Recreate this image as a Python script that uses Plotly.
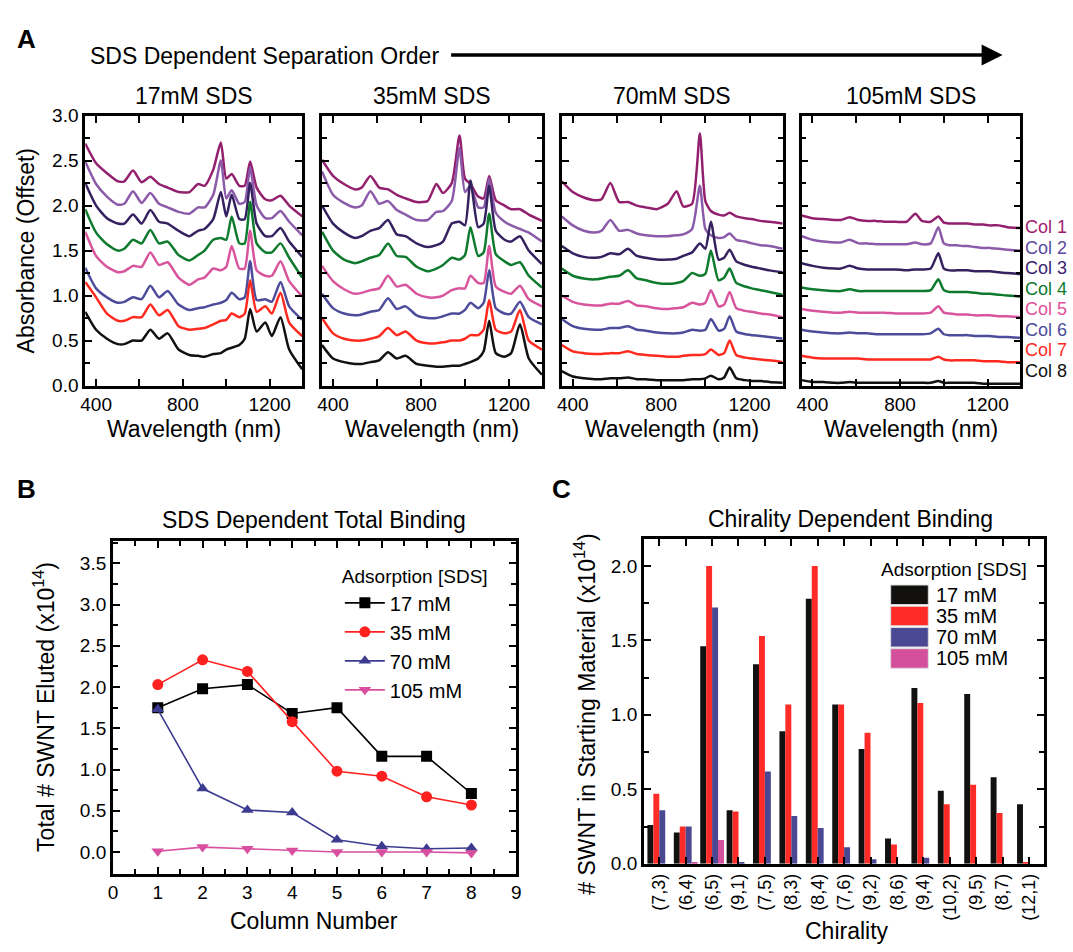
import plotly.graph_objects as go

W, H = 1073, 952
def fx(px): return px / W
def fy(py): return 1 - py / H

FONT = "Liberation Sans, Arial, sans-serif"

# ---------------- Panel A data (absorbance, offset) ----------------
wavelength_nm = [350, 400, 450, 500, 530, 570, 610, 650, 690, 730, 780, 830, 870, 900,
                 940, 975, 1000, 1025, 1060, 1085, 1110, 1140, 1180, 1210, 1250, 1290, 1350]

column_names = ["Col 1", "Col 2", "Col 3", "Col 4", "Col 5", "Col 6", "Col 7", "Col 8"]
panel_titles = ["17mM SDS", "35mM SDS", "70mM SDS", "105mM SDS"]

abs_17mM = [
    [2.69, 2.47, 2.36, 2.27, 2.27, 2.39, 2.26, 2.32, 2.24, 2.20, 2.15, 2.15, 2.24, 2.22, 2.40, 2.70, 2.30, 2.35, 2.22, 2.22, 2.49, 2.20, 2.07, 2.06, 2.11, 2.00, 1.88],
    [2.49, 2.24, 2.10, 2.01, 2.02, 2.16, 2.03, 2.14, 2.02, 1.98, 1.93, 1.91, 1.98, 1.98, 2.12, 2.50, 2.08, 2.17, 2.02, 2.04, 2.42, 2.00, 1.86, 1.86, 1.94, 1.82, 1.67],
    [2.25, 2.00, 1.86, 1.80, 1.80, 1.90, 1.80, 1.95, 1.82, 1.80, 1.72, 1.66, 1.72, 1.74, 1.85, 2.15, 1.88, 2.12, 1.85, 1.85, 2.25, 1.80, 1.66, 1.66, 1.75, 1.60, 1.43],
    [1.96, 1.70, 1.57, 1.50, 1.52, 1.62, 1.58, 1.73, 1.58, 1.60, 1.45, 1.39, 1.45, 1.50, 1.62, 1.64, 1.62, 1.88, 1.58, 1.58, 2.04, 1.58, 1.48, 1.48, 1.58, 1.42, 1.20],
    [1.71, 1.44, 1.32, 1.26, 1.27, 1.33, 1.32, 1.48, 1.34, 1.37, 1.20, 1.12, 1.18, 1.20, 1.30, 1.28, 1.32, 1.55, 1.30, 1.30, 1.72, 1.28, 1.22, 1.22, 1.38, 1.16, 0.99],
    [1.31, 1.08, 0.98, 0.92, 0.93, 0.98, 0.96, 1.11, 0.98, 1.05, 0.90, 0.84, 0.86, 0.87, 0.90, 0.92, 0.95, 1.03, 0.96, 0.98, 1.38, 0.95, 0.96, 0.93, 1.15, 0.88, 0.73],
    [1.15, 0.98, 0.80, 0.72, 0.72, 0.76, 0.76, 0.90, 0.78, 0.84, 0.66, 0.62, 0.63, 0.64, 0.68, 0.72, 0.73, 0.80, 0.76, 0.80, 1.17, 0.82, 0.88, 0.80, 1.03, 0.70, 0.55],
    [0.82, 0.62, 0.52, 0.46, 0.46, 0.50, 0.50, 0.62, 0.52, 0.58, 0.40, 0.34, 0.33, 0.32, 0.35, 0.36, 0.40, 0.42, 0.45, 0.52, 0.85, 0.60, 0.70, 0.55, 0.76, 0.40, 0.18],
]

abs_35mM = [
    [2.51, 2.33, 2.24, 2.18, 2.20, 2.33, 2.20, 2.18, 2.12, 2.08, 2.04, 2.05, 2.24, 2.14, 2.25, 2.78, 2.30, 2.24, 2.10, 2.08, 2.33, 2.06, 2.00, 1.96, 1.96, 1.90, 1.83],
    [2.38, 2.12, 2.03, 1.98, 2.00, 2.16, 2.02, 2.05, 1.95, 1.90, 1.84, 1.84, 1.93, 1.94, 2.05, 2.64, 2.15, 2.22, 1.98, 1.98, 2.30, 1.92, 1.82, 1.78, 1.74, 1.70, 1.60],
    [2.00, 1.80, 1.70, 1.64, 1.66, 1.72, 1.75, 1.84, 1.68, 1.66, 1.58, 1.54, 1.56, 1.60, 1.80, 1.82, 1.78, 2.28, 1.76, 1.80, 2.22, 1.72, 1.62, 1.60, 1.66, 1.50, 1.35],
    [1.71, 1.50, 1.40, 1.36, 1.38, 1.42, 1.45, 1.58, 1.44, 1.43, 1.32, 1.27, 1.30, 1.34, 1.42, 1.40, 1.45, 1.76, 1.44, 1.48, 1.91, 1.46, 1.38, 1.34, 1.37, 1.22, 1.09],
    [1.33, 1.16, 1.07, 1.02, 1.03, 1.06, 1.08, 1.22, 1.10, 1.12, 1.02, 0.98, 0.98, 1.00, 1.06, 1.08, 1.08, 1.22, 1.14, 1.14, 1.55, 1.10, 1.04, 1.02, 1.11, 0.96, 0.88],
    [1.02, 0.86, 0.80, 0.78, 0.79, 0.82, 0.84, 0.97, 0.85, 0.88, 0.78, 0.75, 0.75, 0.77, 0.80, 0.80, 0.84, 0.92, 0.86, 0.92, 1.28, 0.86, 0.80, 0.80, 0.93, 0.76, 0.68],
    [0.75, 0.58, 0.52, 0.50, 0.50, 0.52, 0.55, 0.64, 0.56, 0.60, 0.50, 0.47, 0.47, 0.48, 0.50, 0.50, 0.52, 0.56, 0.56, 0.62, 0.95, 0.62, 0.58, 0.60, 0.84, 0.50, 0.40],
    [0.45, 0.30, 0.26, 0.24, 0.24, 0.26, 0.28, 0.37, 0.30, 0.33, 0.24, 0.22, 0.21, 0.21, 0.22, 0.22, 0.24, 0.26, 0.30, 0.38, 0.72, 0.36, 0.32, 0.36, 0.68, 0.30, 0.12],
]

abs_70mM = [
    [2.27, 2.15, 2.09, 2.06, 2.07, 2.25, 2.04, 2.04, 2.00, 1.98, 1.96, 2.02, 2.16, 1.99, 2.02, 2.80, 2.05, 1.94, 1.90, 1.89, 1.92, 1.88, 1.86, 1.85, 1.83, 1.82, 1.80],
    [1.88, 1.78, 1.72, 1.70, 1.72, 1.84, 1.72, 1.73, 1.69, 1.67, 1.66, 1.66, 1.67, 1.68, 1.74, 2.22, 1.74, 1.67, 1.64, 1.65, 1.69, 1.62, 1.60, 1.58, 1.56, 1.55, 1.52],
    [1.55, 1.47, 1.43, 1.42, 1.43, 1.47, 1.46, 1.52, 1.44, 1.42, 1.40, 1.40, 1.41, 1.44, 1.48, 1.58, 1.52, 1.82, 1.40, 1.42, 1.51, 1.38, 1.34, 1.32, 1.30, 1.28, 1.26],
    [1.30, 1.22, 1.19, 1.18, 1.19, 1.21, 1.22, 1.28, 1.19, 1.17, 1.14, 1.13, 1.14, 1.16, 1.25, 1.22, 1.24, 1.50, 1.17, 1.20, 1.30, 1.14, 1.10, 1.08, 1.06, 1.04, 1.01],
    [1.00, 0.93, 0.90, 0.89, 0.89, 0.91, 0.91, 0.94, 0.89, 0.88, 0.86, 0.85, 0.86, 0.87, 0.92, 0.90, 0.92, 1.06, 0.88, 0.90, 1.04, 0.86, 0.83, 0.82, 0.80, 0.79, 0.76],
    [0.74, 0.66, 0.63, 0.62, 0.62, 0.64, 0.64, 0.66, 0.62, 0.61, 0.59, 0.58, 0.58, 0.59, 0.62, 0.61, 0.62, 0.74, 0.61, 0.63, 0.77, 0.60, 0.57, 0.56, 0.55, 0.54, 0.52],
    [0.45, 0.38, 0.36, 0.35, 0.35, 0.36, 0.36, 0.38, 0.35, 0.34, 0.33, 0.32, 0.32, 0.33, 0.34, 0.34, 0.35, 0.40, 0.34, 0.36, 0.50, 0.34, 0.31, 0.30, 0.29, 0.28, 0.26],
    [0.16, 0.10, 0.08, 0.07, 0.07, 0.08, 0.08, 0.09, 0.07, 0.07, 0.06, 0.06, 0.06, 0.06, 0.07, 0.07, 0.08, 0.11, 0.07, 0.09, 0.20, 0.08, 0.06, 0.05, 0.05, 0.04, 0.03],
]

abs_105mM = [
    [1.89, 1.86, 1.85, 1.84, 1.84, 1.87, 1.84, 1.83, 1.83, 1.82, 1.82, 1.82, 1.91, 1.83, 1.82, 1.88, 1.81, 1.80, 1.80, 1.80, 1.80, 1.79, 1.79, 1.78, 1.78, 1.76, 1.75],
    [1.66, 1.62, 1.60, 1.59, 1.59, 1.62, 1.58, 1.58, 1.57, 1.57, 1.57, 1.57, 1.59, 1.57, 1.58, 1.76, 1.58, 1.56, 1.56, 1.55, 1.55, 1.54, 1.53, 1.53, 1.52, 1.51, 1.50],
    [1.36, 1.33, 1.31, 1.30, 1.30, 1.33, 1.30, 1.29, 1.29, 1.29, 1.29, 1.28, 1.29, 1.29, 1.30, 1.47, 1.30, 1.28, 1.28, 1.28, 1.28, 1.27, 1.27, 1.27, 1.26, 1.25, 1.24],
    [1.09, 1.07, 1.06, 1.05, 1.05, 1.07, 1.05, 1.05, 1.05, 1.05, 1.05, 1.05, 1.05, 1.05, 1.06, 1.18, 1.06, 1.04, 1.04, 1.04, 1.04, 1.03, 1.02, 1.02, 1.01, 1.00, 0.99],
    [0.85, 0.83, 0.82, 0.81, 0.81, 0.82, 0.81, 0.81, 0.81, 0.81, 0.80, 0.80, 0.80, 0.80, 0.81, 0.88, 0.81, 0.80, 0.79, 0.79, 0.79, 0.78, 0.78, 0.78, 0.77, 0.77, 0.76],
    [0.62, 0.60, 0.59, 0.58, 0.58, 0.59, 0.58, 0.58, 0.57, 0.57, 0.57, 0.57, 0.57, 0.57, 0.58, 0.63, 0.57, 0.56, 0.56, 0.56, 0.56, 0.55, 0.55, 0.55, 0.54, 0.54, 0.53],
    [0.33, 0.31, 0.30, 0.30, 0.30, 0.30, 0.30, 0.29, 0.29, 0.29, 0.29, 0.29, 0.29, 0.29, 0.29, 0.32, 0.29, 0.28, 0.28, 0.28, 0.28, 0.28, 0.27, 0.27, 0.27, 0.26, 0.26],
    [0.06, 0.04, 0.04, 0.03, 0.03, 0.04, 0.03, 0.03, 0.03, 0.03, 0.03, 0.03, 0.03, 0.03, 0.03, 0.05, 0.03, 0.03, 0.03, 0.03, 0.03, 0.03, 0.02, 0.02, 0.02, 0.02, 0.02],
]

# ---------------- Panel B data ----------------
column_number = [1, 2, 3, 4, 5, 6, 7, 8]
eluted_17mM = [1.75, 1.98, 2.03, 1.68, 1.75, 1.16, 1.16, 0.71]
eluted_35mM = [2.03, 2.33, 2.19, 1.58, 0.98, 0.92, 0.67, 0.57]
eluted_70mM = [1.73, 0.77, 0.51, 0.48, 0.15, 0.07, 0.04, 0.05]
eluted_105mM = [0.01, 0.06, 0.04, 0.02, 0.00, 0.00, 0.00, -0.01]
sds_labels = ["17 mM", "35 mM", "70 mM", "105 mM"]

# ---------------- Panel C data ----------------
chirality = ["(7,3)", "(6,4)", "(6,5)", "(9,1)", "(7,5)", "(8,3)", "(8,4)", "(7,6)",
             "(9,2)", "(8,6)", "(9,4)", "(10,2)", "(9,5)", "(8,7)", "(12,1)"]
start_17mM = [0.26, 0.21, 1.46, 0.36, 1.34, 0.89, 1.78, 1.07, 0.77, 0.17, 1.18, 0.49, 1.14, 0.58, 0.40]
start_35mM = [0.47, 0.25, 2.00, 0.35, 1.53, 1.07, 2.00, 1.07, 0.88, 0.13, 1.08, 0.40, 0.53, 0.34, 0.01]
start_70mM = [0.36, 0.25, 1.72, 0.01, 0.62, 0.32, 0.24, 0.11, 0.03, 0.00, 0.04, 0.00, 0.00, 0.00, 0.00]
start_105mM = [0.00, 0.005, 0.16, 0.00, 0.00, 0.00, 0.00, 0.00, 0.00, 0.00, 0.00, 0.00, 0.00, 0.00, 0.00]

# ---------------- styles ----------------
col_line_colors = ["#93206e", "#8b5aa8", "#35215f", "#0e7a2e", "#d8559d", "#4d4c9b", "#ff2a1f", "#111111"]
col_label_colors = ["#a0206f", "#5b4aa0", "#3b2373", "#0e7a2e", "#e0509a", "#4d4c9b", "#ff2a1f", "#111111"]
sds_line_colors = ["#000000", "#ff2020", "#3d3b90", "#d94fa0"]
sds_bar_colors = ["#121110", "#ff2b26", "#4a4892", "#d44f9c"]
sds_markers = ["square", "circle", "triangle-up", "triangle-down"]

TICK = 19
TITLE = 23
LEG = 20

fig = go.Figure()

panels_a = [abs_17mM, abs_35mM, abs_70mM, abs_105mM]
for p, panel in enumerate(panels_a):
    ax = "" if p == 0 else str(p + 1)
    for c, series in enumerate(panel):
        fig.add_trace(go.Scatter(
            x=wavelength_nm, y=series, mode="lines", name=column_names[c],
            line=dict(color=col_line_colors[c], width=2.5, shape="spline", smoothing=0.6),
            xaxis="x" + ax, yaxis="y" + ax, showlegend=False, hoverinfo="skip"))

for s, vals in enumerate([eluted_17mM, eluted_35mM, eluted_70mM, eluted_105mM]):
    fig.add_trace(go.Scatter(
        x=column_number, y=vals, mode="lines+markers", name=sds_labels[s],
        line=dict(color=sds_line_colors[s], width=1.6),
        marker=dict(symbol=sds_markers[s], size=11, color=sds_line_colors[s]),
        xaxis="x5", yaxis="y5", legend="legend"))

for s, vals in enumerate([start_17mM, start_35mM, start_70mM, start_105mM]):
    fig.add_trace(go.Bar(
        x=chirality, y=vals, name=sds_labels[s],
        marker=dict(color=sds_bar_colors[s], line=dict(width=0)),
        xaxis="x6", yaxis="y6", showlegend=False))

axis_common = dict(showline=True, linecolor="black", linewidth=2.8, mirror="ticks",
                   ticks="inside", ticklen=7, tickwidth=2.2, tickcolor="black",
                   showgrid=False, zeroline=False,
                   tickfont=dict(size=TICK, color="black", family=FONT))

def minor(d):
    return dict(ticks="inside", ticklen=5, tickwidth=2.2, tickcolor="black", dtick=d, showgrid=False)

a_x = [(81, 300), (320, 542), (562, 785), (804, 1025)]
layout = dict(
    width=W, height=H, margin=dict(l=0, r=0, t=0, b=0),
    paper_bgcolor="white", plot_bgcolor="white",
    font=dict(family=FONT, color="black"),
    barmode="group", bargap=0.1, bargroupgap=0.0,
)
for p, (x0, x1) in enumerate(a_x):
    ax = "" if p == 0 else str(p + 1)
    layout["xaxis" + ax] = dict(axis_common, domain=[fx(x0), fx(x1)], range=[350, 1350],
                               tickmode="linear", tick0=400, dtick=400,
                               minor=dict(minor(200), ticklen=7, tick0=400),
                               anchor="y" + ax)
    layout["yaxis" + ax] = dict(axis_common, domain=[fy(384), fy(108)], range=[0, 3],
                               tickmode="linear", tick0=0, dtick=0.5, tickformat=".1f",
                               minor=dict(minor(0.25), tick0=0),
                               showticklabels=(p == 0), anchor="x" + ax)

layout["xaxis5"] = dict(axis_common, domain=[fx(109), fx(516)], range=[0, 9],
                        tickmode="linear", tick0=0, dtick=1, minor=dict(minor(0.5), tick0=0),
                        anchor="y5")
layout["yaxis5"] = dict(axis_common, domain=[fy(883), fy(543)], range=[-0.26, 3.77],
                        tickmode="linear", tick0=0, dtick=0.5, tickformat=".1f",
                        minor=dict(minor(0.25), tick0=0), anchor="x5")
layout["xaxis6"] = dict(axis_common, domain=[fx(645), fx(1049)], range=[-0.58, 14.58],
                        type="category", tickangle=-90, anchor="y6",
                        tickfont=dict(size=18, color="black", family=FONT))
layout["yaxis6"] = dict(axis_common, domain=[fy(873), fy(541)], range=[0, 2.18],
                        tickmode="linear", tick0=0, dtick=0.5, tickformat=".1f",
                        minor=dict(minor(0.25), tick0=0), anchor="x6")

layout["legend"] = dict(x=fx(338), y=fy(561), xanchor="left", yanchor="top",
                        title=dict(text="Adsorption [SDS]", font=dict(size=LEG - 1)),
                        font=dict(size=LEG), bgcolor="rgba(0,0,0,0)", itemwidth=40,
                        tracegroupgap=0)
fig.update_layout(**layout)

ann = []
def text(x, y, t, size=TITLE, xanchor="center", yanchor="middle", color="black", **kw):
    d = dict(x=fx(x), y=fy(y), xref="paper", yref="paper", text=t, showarrow=False,
             xanchor=xanchor, yanchor=yanchor,
             font=dict(size=size, color=color, family=FONT))
    d.update(kw)
    ann.append(d)

text(22, 30, "<b>A</b>", 26)
text(22, 490, "<b>B</b>", 26)
text(562, 490, "<b>C</b>", 26)
text(84, 47, "SDS Dependent Separation Order", TITLE, xanchor="left")
for p, (x0, x1) in enumerate(a_x):
    text((x0 + x1) / 2, 88, panel_titles[p], TITLE)
    text((x0 + x1) / 2, 428, "Wavelength (nm)", TITLE)
text(21, 246, "Absorbance (Offset)", TITLE, textangle=-90)
for c, name in enumerate(column_names):
    text(1028, 222 + 21 * c, name, 18, xanchor="left", color=col_label_colors[c])
text(312, 521, "SDS Dependent Total Binding", TITLE)
text(312, 932, "Column Number", TITLE)
text(40, 713, "Total # SWNT Eluted (x10<sup>14</sup>)", TITLE, textangle=-90)
text(853, 520, "Chirality Dependent Binding", TITLE)
text(850, 942, "Chirality", TITLE)
text(586, 720, "# SWNT in Starting Material (x10<sup>14</sup>)", TITLE, textangle=-90)

# manual legend for panel C (large colour swatches, as in the original)
text(882, 572, "Adsorption [SDS]", LEG - 1, xanchor="left")
shapes = []
for s, lab in enumerate(sds_labels):
    yc = 598 + 21.7 * s
    shapes.append(dict(type="rect", xref="paper", yref="paper",
                       x0=fx(894), x1=fx(932), y0=fy(yc + 10), y1=fy(yc - 10),
                       fillcolor=sds_bar_colors[s], line=dict(color="#dddddd", width=1)))
    text(938, yc, lab, LEG, xanchor="left")

# arrow
ann.append(dict(x=fx(1007), y=fy(46), xref="paper", yref="paper", ax=-553, ay=0,
                text="", showarrow=True, arrowhead=2, arrowsize=1.2, arrowwidth=3.5,
                arrowcolor="black"))
fig.update_layout(annotations=ann, shapes=shapes)

fig.write_html("out.html", config={"displayModeBar": False},
               post_script="document.body.style.margin='0';document.body.style.overflow='hidden';")
